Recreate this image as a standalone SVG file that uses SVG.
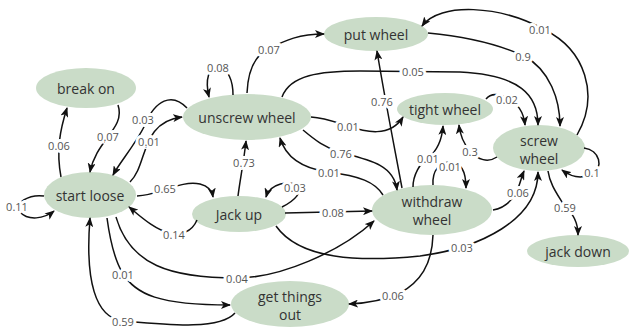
<svg xmlns="http://www.w3.org/2000/svg" width="629" height="331" viewBox="0 0 629 331">
<style>
.n ellipse{fill:#cadcc8;stroke:none}
.n text{font-family:"Open Sans","Noto Sans",sans-serif;font-size:14px;fill:#333;text-anchor:middle;dominant-baseline:central}
.e path{fill:none;stroke:#111;stroke-width:1.5;marker-end:url(#a)}
.e text{font-family:"Open Sans","Noto Sans",sans-serif;font-size:11px;fill:#555;text-anchor:middle;dominant-baseline:central;stroke:#fff;stroke-width:6px;paint-order:stroke;stroke-linejoin:round}
</style>
<defs>
<marker id="a" viewBox="0 0 10 8" refX="9" refY="4" markerWidth="10" markerHeight="8" markerUnits="userSpaceOnUse" orient="auto">
<path d="M0,0 L10,4 L0,8 L2.5,4 z" fill="#111"/>
</marker>
</defs>
<rect width="629" height="331" fill="#fff"/>
<g id="nodes">
<g id="break-on" class="n"><ellipse cx="86" cy="88" rx="50" ry="20"/><text x="86" y="88">break on</text></g>
<g id="start-loose" class="n"><ellipse cx="90" cy="195" rx="46" ry="23"/><text x="90" y="195">start loose</text></g>
<g id="unscrew-wheel" class="n"><ellipse cx="247" cy="117" rx="64" ry="23"/><text x="247" y="117">unscrew wheel</text></g>
<g id="put-wheel" class="n"><ellipse cx="376" cy="34" rx="52" ry="17"/><text x="376" y="34">put wheel</text></g>
<g id="tight-wheel" class="n"><ellipse cx="445" cy="109" rx="48" ry="16"/><text x="445" y="109">tight wheel</text></g>
<g id="screw-wheel" class="n"><ellipse cx="539" cy="148" rx="46" ry="23"/><text x="539" y="140">screw</text><text x="539" y="158">wheel</text></g>
<g id="withdraw-wheel" class="n"><ellipse cx="432" cy="210" rx="60" ry="25"/><text x="432" y="201">withdraw</text><text x="432" y="219">wheel</text></g>
<g id="jack-up" class="n"><ellipse cx="239" cy="214" rx="47" ry="18"/><text x="239" y="214">Jack up</text></g>
<g id="get-things-out" class="n"><ellipse cx="290" cy="304" rx="59" ry="23"/><text x="290" y="296">get things</text><text x="290" y="314">out</text></g>
<g id="jack-down" class="n"><ellipse cx="578" cy="251" rx="51" ry="16"/><text x="578" y="251">jack down</text></g>
</g>
<g id="connectors" class="e">
<path d="M61,177 C56,150 60,130 67,108"/><text x="59" y="145">0.06</text>
<path d="M118,105 C126,128 96,140 90,172"/><text x="108" y="136">0.07</text>
<path d="M187,108 C172,92 155,100 145,125 C135,145 120,162 113,175"/><text x="143" y="119">0.03</text>
<path d="M130,182 C148,165 140,122 182,117"/><text x="149" y="141">0.01</text>
<path d="M44,196 C30,194 12,203 20,212 C28,221 44,219 54,211"/><text x="17" y="206">0.11</text>
<path d="M137,196 C160,195 180,180 200,184 C208,186 212,190 213,197"/><text x="165" y="188">0.65</text>
<path d="M197,220 C192,232 180,236 170,233 C155,230 140,216 129,207"/><text x="174" y="234">0.14</text>
<path d="M238,196 C240,180 244,160 246,141"/><text x="244" y="162">0.73</text>
<path d="M282,207 C296,200 302,192 298,186 C290,180 270,183 266,197"/><text x="295" y="187">0.03</text>
<path d="M285,213 L372,211"/><text x="333" y="212">0.08</text>
<path d="M276,226 C300,260 360,262 420,256 C480,248 538,220 538,172"/><text x="462" y="247">0.03</text>
<path d="M116,217 C130,265 170,278 237,278 C280,278 340,252 374,221"/><text x="237" y="278">0.04</text>
<path d="M107,218 C110,240 115,260 122,272 C135,295 160,305 230,305"/><text x="123" y="274">0.01</text>
<path d="M235,313 C220,330 170,325 123,321 C95,318 85,280 90,218"/><text x="123" y="321">0.59</text>
<path d="M433,235 C432,265 420,282 400,293 C385,300 370,303 349,304"/><text x="393" y="295">0.06</text>
<path d="M493,210 C505,208 512,200 516,193 C520,185 521,178 524,171"/><text x="518" y="192">0.06</text>
<path d="M548,171 C550,185 558,195 565,207 C575,215 578,225 578,235"/><text x="565" y="207">0.59</text>
<path d="M584,148 C600,150 604,168 592,174 C580,180 570,176 562,170"/><text x="592" y="172">0.1</text>
<path d="M577,135 C600,95 585,50 545,30 C500,5 440,2 422,26"/><text x="540" y="29">0.01</text>
<path d="M428,33 C470,37 500,45 524,56 C550,70 560,100 560,126"/><text x="523" y="56">0.9</text>
<path d="M282,97 C290,75 320,71 360,71 L460,72 C520,75 538,95 538,125"/><text x="413" y="71">0.05</text>
<path d="M233,95 C233,80 228,70 220,67 C208,66 205,80 209,97"/><text x="218" y="67">0.08</text>
<path d="M247,93 C248,70 255,55 269,49 C285,40 300,34 324,34"/><text x="269" y="49">0.07</text>
<path d="M311,117 C325,118 335,122 348,126 C365,132 390,138 403,117"/><text x="348" y="126">0.01</text>
<path d="M303,130 C315,140 325,148 342,153 C370,160 394,165 397,190"/><text x="341" y="153">0.76</text>
<path d="M383,195 C375,182 360,176 328,172 C300,168 285,155 280,138"/><text x="329" y="172">0.01</text>
<path d="M402,188 C395,150 385,100 377,51"/><text x="382" y="101">0.76</text>
<path d="M413,187 C413,175 420,163 428,158 C438,150 442,140 443,126"/><text x="428" y="158">0.01</text>
<path d="M433,185 C432,170 440,162 450,162 C460,162 466,170 466,188"/><text x="450" y="166">0.01</text>
<path d="M497,157 C488,163 478,160 470,151 C463,143 460,135 459,125"/><text x="470" y="151">0.3</text>
<path d="M486,99 C490,94 497,93 507,98 C520,104 524,115 525,125"/><text x="507" y="99">0.02</text>
</g>
</svg>
